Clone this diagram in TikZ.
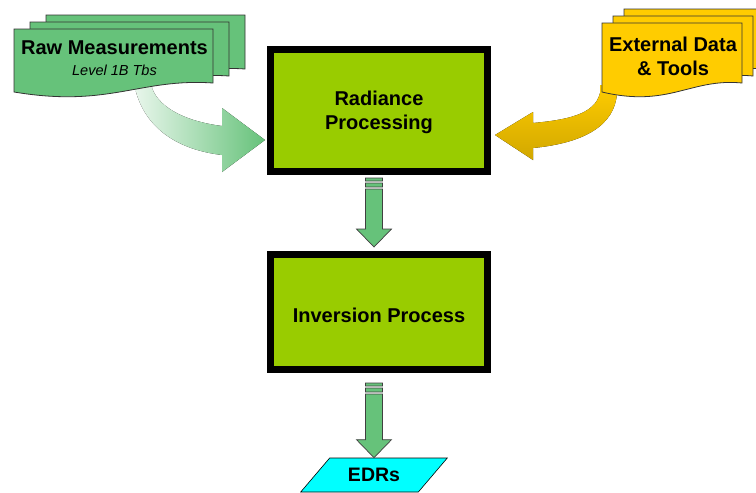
\documentclass[tikz,border=0pt]{standalone}
\usepackage{fontspec}
\setmainfont{Liberation Sans}
\definecolor{proc_green}{RGB}{153, 204, 0}
\definecolor{doc_green}{RGB}{102, 194, 122}
\definecolor{doc_yellow}{RGB}{255, 204, 0}
\definecolor{edr_cyan}{RGB}{0, 255, 255}
\usetikzlibrary{arrows.meta, positioning, shapes.geometric, calc}

% one sheet of a document stack: x, y, width, left height, fill
\newcommand{\docpage}[5]{%
  \draw[docline, fill=#5] (#1,#2) -- ({#1+#3},#2) -- ({#1+#3},{#2+#4-9})
    .. controls ({#1+0.63*#3},{#2+#4-14}) and ({#1+0.48*#3},{#2+#4+16}) .. (#1,{#2+#4}) -- cycle;}

% striped block arrow pointing down: top point, tip point
\newcommand{\stripedarrow}[2]{%
  \path[blockarrow] let \p1=(#1), \p2=(#2) in
    (\x1-8.5pt,\y1) rectangle (\x1+8.5pt,\y1-3pt)
    (\x1-8.5pt,\y1-5pt) rectangle (\x1+8.5pt,\y1-9pt)
    (\x1-8.5pt,\y1-11pt) -- (\x1+8.5pt,\y1-11pt) -- (\x1+8.5pt,\y2+18pt)
    -- (\x1+17.5pt,\y2+18pt) -- (\x2,\y2) -- (\x1-17.5pt,\y2+18pt)
    -- (\x1-8.5pt,\y2+18pt) -- cycle;}

\begin{document}
\begin{tikzpicture}[x=1pt, y=-1pt,
        procbox/.style={rectangle, draw=black, line width=7pt, fill=proc_green,
                        minimum width=217pt, align=center,
                        font=\fontsize{20}{24}\selectfont\bfseries},
        doctitle/.style={anchor=base, align=center,
                         font=\fontsize{20}{24}\selectfont\bfseries},
        docsub/.style={anchor=base, font=\fontsize{14.5}{17}\selectfont\itshape},
        docline/.style={draw=black!80, line width=0.8pt},
        blockarrow/.style={draw=black!75, line width=0.7pt, fill=doc_green},
        edrbox/.style={trapezium, trapezium left angle=38.7,
                       trapezium right angle=141.3, trapezium stretches=true,
                       draw=black, line width=0.6pt, fill=edr_cyan,
                       minimum width=147pt, minimum height=34pt, inner sep=0pt,
                       font=\fontsize{19.5}{22}\selectfont\bfseries},
      ]
        \useasboundingbox (0,0) rectangle (756,493);

        % curved feeds into the first box
        \fill[left color=doc_green!15!white, right color=doc_green]
          (135,80) -- (135,88) .. controls (145,130) and (180,150) .. (222,155)
          -- (222,172) -- (265,140) -- (222,108) -- (222,126)
          .. controls (190,122) and (160,110) .. (152,88) -- (152,80) -- cycle;
        \fill[top color=doc_yellow, bottom color=doc_yellow!82!black]
          (600,85) -- (600,93) .. controls (595,115) and (565,120) .. (533,123)
          -- (533,112) -- (495,135) -- (533,160) -- (533,148)
          .. controls (585,143) and (615,125) .. (617,93) -- (617,85) -- cycle;

        % document stacks
        \docpage{46}{15}{199}{63}{doc_green}
        \docpage{30}{22}{199}{63}{doc_green}
        \docpage{14}{29}{199}{63}{doc_green}
        \node[doctitle] (raw) at (114.5,54) {Raw Measurements};
        \node[docsub] (level) at (114.5,75) {Level 1B Tbs};

        \docpage{624}{9}{140}{69}{doc_yellow}
        \docpage{613}{16}{140}{69}{doc_yellow}
        \docpage{602}{23}{140}{69}{doc_yellow}
        \node[align=center, font=\fontsize{20}{24}\selectfont\bfseries]
          (ext) at (673,56) {External Data\\\& Tools};

        % processing chain
        \node[procbox, minimum height=122pt, text height=43pt] (rad)
          at (379,110.5) {Radiance\\Processing};
        \node[procbox, minimum height=115pt, text height=20pt, text depth=0pt]
          (inv) at (379,312) {Inversion Process};
        \node[edrbox] (edr) at (374,475) {EDRs};

        \stripedarrow{$(rad.south -| edr)+(0,3)$}{$(inv.north -| edr)+(0,-4)$}
        \stripedarrow{$(inv.south -| edr)+(0,10)$}{edr.north}
      \end{tikzpicture}
\end{document}
